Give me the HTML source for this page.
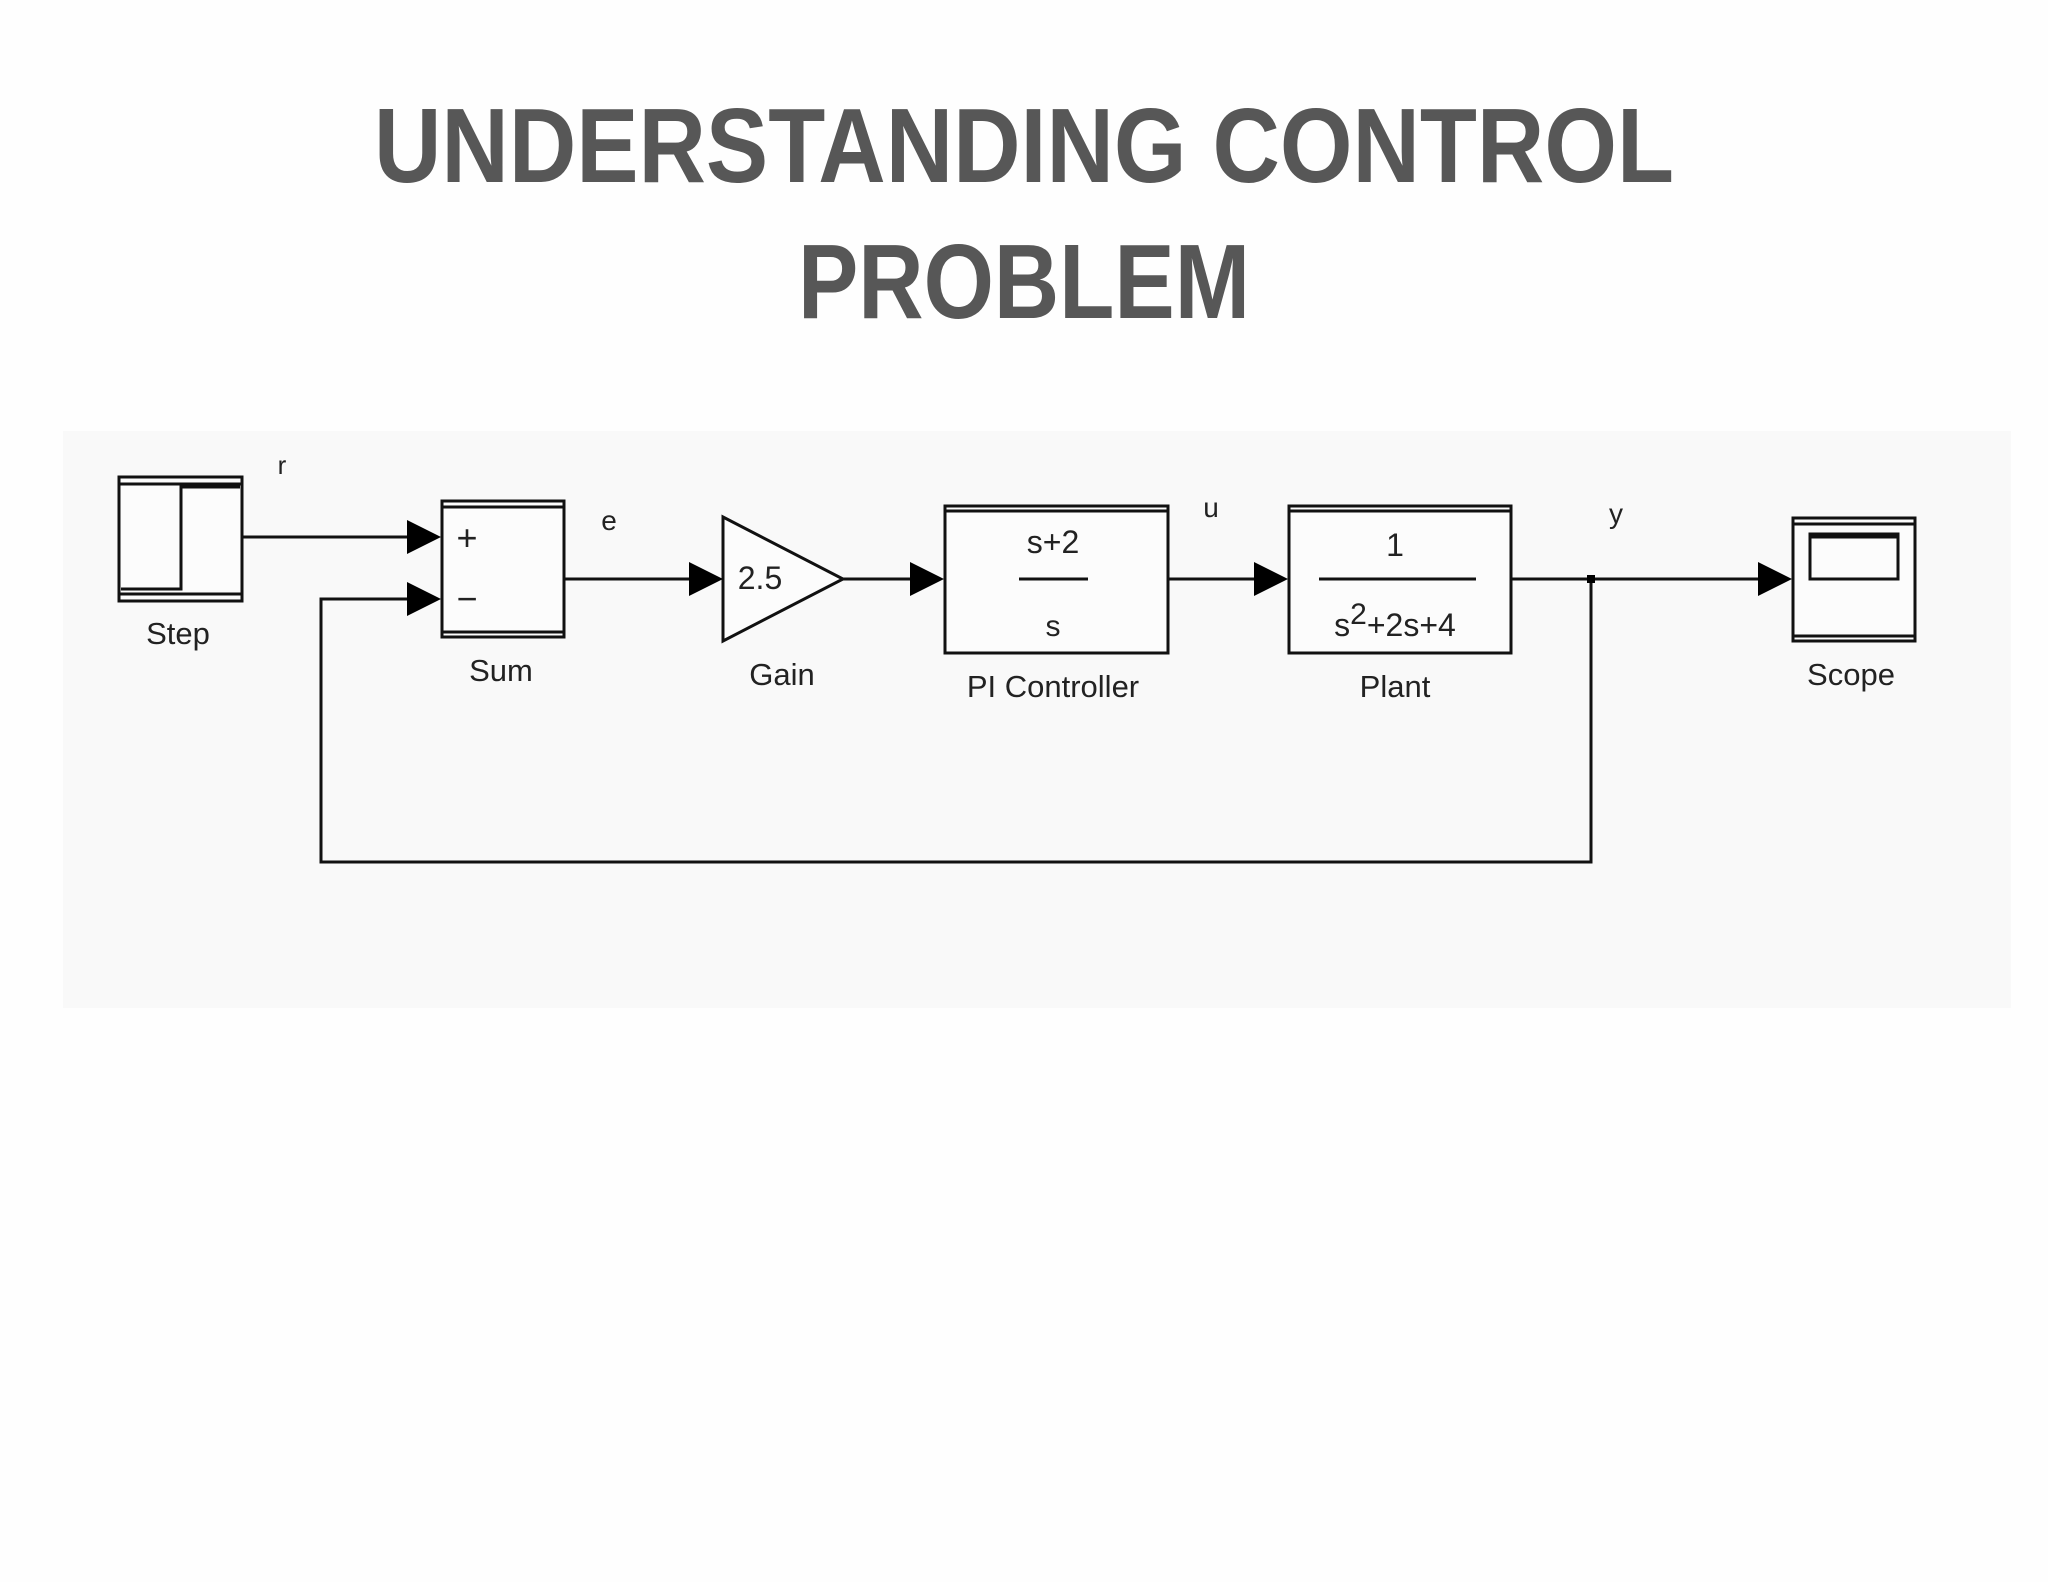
<!DOCTYPE html>
<html><head><meta charset="utf-8"><style>
html,body{margin:0;padding:0;background:#fff;}
svg{display:block;}
</style></head><body>
<svg width="2048" height="1582" viewBox="0 0 2048 1582" xmlns="http://www.w3.org/2000/svg">
<rect width="2048" height="1582" fill="#fefefe"/>
<g font-family="Liberation Sans, sans-serif" font-weight="bold" fill="#575757" text-anchor="middle">
<text x="1024" y="182" font-size="106" textLength="1300" lengthAdjust="spacingAndGlyphs">UNDERSTANDING CONTROL</text>
<text x="1024" y="318" font-size="106" textLength="452" lengthAdjust="spacingAndGlyphs">PROBLEM</text>
</g>
<rect x="63" y="431" width="1948" height="577" fill="#f9f9f9"/>
<g stroke="#111" stroke-width="3" fill="none">
<!-- Step -->
<rect x="119" y="477" width="123" height="124" fill="#fcfcfc"/>
<line x1="119" y1="484" x2="242" y2="484"/>
<line x1="119" y1="594" x2="242" y2="594"/>
<polyline points="121,589 181,589 181,487 240,487"/>
<!-- Sum -->
<rect x="442" y="501" width="122" height="136" fill="#fcfcfc"/>
<line x1="442" y1="507" x2="564" y2="507"/>
<line x1="442" y1="632" x2="564" y2="632"/>
<!-- Gain -->
<polygon points="723,517 843,579 723,641" fill="#fcfcfc"/>
<!-- PI -->
<rect x="945" y="506" width="223" height="147" fill="#fcfcfc"/>
<line x1="945" y1="511" x2="1168" y2="511"/>
<line x1="1019" y1="579" x2="1088" y2="579"/>
<!-- Plant -->
<rect x="1289" y="506" width="222" height="147" fill="#fcfcfc"/>
<line x1="1289" y1="511" x2="1511" y2="511"/>
<line x1="1319" y1="579" x2="1476" y2="579"/>
<!-- Scope -->
<rect x="1793" y="518" width="122" height="123" fill="#fcfcfc"/>
<line x1="1793" y1="524" x2="1915" y2="524"/>
<line x1="1793" y1="636" x2="1915" y2="636"/>
<rect x="1810" y="534" width="88" height="45"/>
<line x1="1810" y1="537" x2="1898" y2="537"/>
<!-- wires -->
<line x1="242" y1="537" x2="410" y2="537"/>
<line x1="564" y1="579" x2="692" y2="579"/>
<line x1="843" y1="579" x2="912" y2="579"/>
<line x1="1168" y1="579" x2="1256" y2="579"/>
<line x1="1511" y1="579" x2="1760" y2="579"/>
<polyline points="1591,579 1591,862 321,862 321,599 410,599"/>
</g>
<g fill="#000">
<polygon points="407,520 441,537 407,554"/>
<polygon points="407,582 441,599 407,616"/>
<polygon points="689,562 723,579 689,596"/>
<polygon points="910,562 944,579 910,596"/>
<polygon points="1254,562 1288,579 1254,596"/>
<polygon points="1758,562 1792,579 1758,596"/>
<rect x="1587" y="575" width="8" height="8"/>
</g>
<g font-family="Liberation Sans, sans-serif" fill="#222" text-anchor="middle" font-size="31">
<text x="178" y="644">Step</text>
<text x="282" y="474" font-size="26">r</text>
<text x="501" y="681">Sum</text>
<text x="609" y="530" font-size="28">e</text>
<text x="782" y="685">Gain</text>
<text x="1053" y="697">PI Controller</text>
<text x="1211" y="517" font-size="28">u</text>
<text x="1395" y="697">Plant</text>
<text x="1616" y="523" font-size="28">y</text>
<text x="1851" y="685">Scope</text>
<text x="467" y="550" font-size="36">+</text>
<text x="467" y="611" font-size="36">−</text>
<text x="760" y="589" font-size="32">2.5</text>
<text x="1053" y="553" font-size="32">s+2</text>
<text x="1053" y="636" font-size="30">s</text>
<text x="1395" y="556" font-size="32">1</text>
<text x="1395" y="636" font-size="32">s<tspan dy="-12" font-size="30">2</tspan><tspan dy="12">+2s+4</tspan></text>
</g>
</svg>
</body></html>
